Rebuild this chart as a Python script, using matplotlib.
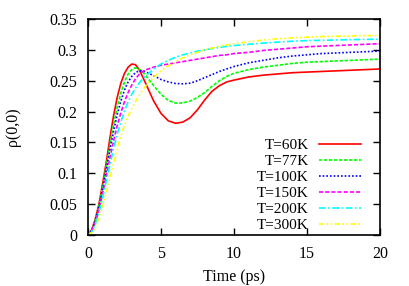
import numpy as np
import matplotlib.pyplot as plt

plt.rcParams['font.family'] = ['Liberation Serif', 'DejaVu Serif']

# Time axis (ps) and rho(0,0) values
t = [0, 0.25, 0.5, 0.75, 1.0, 1.25, 1.5, 1.75, 2.0, 2.25, 2.5, 2.75, 3.0, 3.25, 3.5, 3.75,
     4.0, 4.5, 5.0, 5.5, 6.0, 6.5, 7.0, 7.5, 8.0, 8.5, 9.0, 9.5, 10, 11, 12, 13, 14, 15,
     16, 17, 18, 19, 20]

rho_60 = [0, 0.008, 0.026, 0.05, 0.083, 0.118, 0.157, 0.193, 0.223, 0.246, 0.262, 0.272,
          0.277, 0.276, 0.268, 0.256, 0.243, 0.217, 0.197, 0.185, 0.181, 0.183, 0.19, 0.203,
          0.219, 0.233, 0.242, 0.248, 0.251, 0.256, 0.259, 0.261, 0.263, 0.264, 0.265,
          0.266, 0.267, 0.268, 0.269]
rho_77 = [0, 0.007, 0.024, 0.047, 0.078, 0.111, 0.146, 0.179, 0.207, 0.23, 0.248, 0.261,
          0.268, 0.271, 0.269, 0.264, 0.257, 0.242, 0.228, 0.218, 0.2137, 0.214, 0.217,
          0.223, 0.231, 0.241, 0.25, 0.257, 0.262, 0.268, 0.272, 0.275, 0.278, 0.28, 0.281,
          0.282, 0.283, 0.284, 0.285]
rho_100 = [0, 0.007, 0.022, 0.045, 0.074, 0.105, 0.138, 0.168, 0.195, 0.217, 0.235, 0.248,
           0.257, 0.263, 0.266, 0.266, 0.264, 0.258, 0.252, 0.248, 0.2455, 0.245, 0.246,
           0.25, 0.255, 0.26, 0.265, 0.269, 0.273, 0.279, 0.283, 0.287, 0.29, 0.292, 0.294,
           0.295, 0.296, 0.297, 0.298]
rho_150 = [0, 0.006, 0.02, 0.041, 0.067, 0.096, 0.125, 0.152, 0.177, 0.198, 0.216, 0.231,
           0.243, 0.253, 0.26, 0.265, 0.268, 0.272, 0.275, 0.277, 0.279, 0.281, 0.283, 0.285,
           0.287, 0.289, 0.291, 0.292, 0.294, 0.296, 0.299, 0.301, 0.303, 0.305, 0.306,
           0.307, 0.308, 0.309, 0.31]
rho_200 = [0, 0.005, 0.017, 0.036, 0.06, 0.087, 0.113, 0.14, 0.163, 0.183, 0.201, 0.216,
           0.228, 0.238, 0.246, 0.253, 0.259, 0.269, 0.277, 0.283, 0.288, 0.292, 0.295,
           0.298, 0.3, 0.302, 0.304, 0.3055, 0.307, 0.309, 0.311, 0.3125, 0.314, 0.315,
           0.3155, 0.316, 0.3165, 0.317, 0.3172]
rho_300 = [0, 0.004, 0.013, 0.028, 0.047, 0.069, 0.092, 0.116, 0.139, 0.16, 0.178, 0.193,
           0.205, 0.216, 0.226, 0.235, 0.243, 0.256, 0.266, 0.274, 0.281, 0.287, 0.292,
           0.296, 0.3, 0.303, 0.306, 0.308, 0.31, 0.313, 0.316, 0.318, 0.3195, 0.3205,
           0.3215, 0.322, 0.3225, 0.323, 0.3232]

labels = ['T=60K', 'T=77K', 'T=100K', 'T=150K', 'T=200K', 'T=300K']
series = [rho_60, rho_77, rho_100, rho_150, rho_200, rho_300]
colors = ['#ff0000', '#00ff00', '#0000ff', '#ff00ff', '#00ffff', '#ffff00']
styles = ['-', (0, (2, 1)), (0, (1, 1.2)), (0, (2.5, 1.2)), (0, (4, 1.5, 1, 1.5)),
          (0, (3, 1.5, 1, 1.5, 1, 1.5))]

fig = plt.figure(figsize=(4.09, 2.86), dpi=100)
ax = fig.add_axes([88 / 409, 1 - 235 / 286, 292 / 409, 216 / 286])

for y, lab, c, ls in zip(series, labels, colors, styles):
    ax.plot(t, y, color=c, ls=ls, lw=1.2, label=lab)

ax.set_xlim(0, 20)
ax.set_ylim(0, 0.35)
ax.set_xticks([0, 5, 10, 15, 20])
ax.set_yticks(np.arange(0, 0.351, 0.05))
ax.set_yticklabels(['0', '0.05', '0.1', '0.15', '0.2', '0.25', '0.3', '0.35'])
ax.tick_params(direction='in', top=True, right=True, length=5, width=1,
               labelsize=11.5, pad=8)
for s in ax.spines.values():
    s.set_linewidth(1.2)

ax.set_xlabel('Time (ps)', fontsize=11.5, labelpad=5)
ax.set_ylabel('ρ(0,0)', fontsize=11.5, labelpad=20)

ax.legend(loc='lower right', markerfirst=False, frameon=False, fontsize=11,
          handlelength=2.75, handletextpad=0.65, labelspacing=0.15,
          borderpad=0, borderaxespad=0,
          bbox_to_anchor=((361 - 88) / 292, 3 / 216))

fig.savefig('out.png', dpi=100)
